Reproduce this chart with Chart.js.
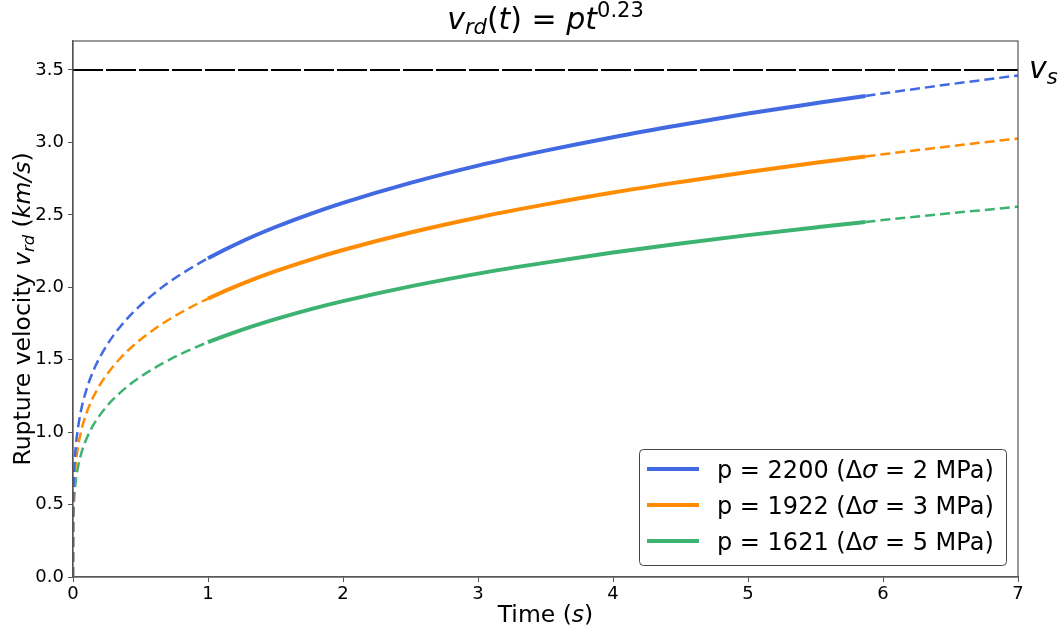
<!DOCTYPE html>
<html>
<head>
<meta charset="utf-8">
<script src="https://cdn.jsdelivr.net/npm/chart.js@4"></script>
<style>
  html, body { margin: 0; padding: 0; background: #fff; }
  #wrap { width: 1060px; height: 630px; }
</style>
</head>
<body>
<div id="wrap"><canvas id="chart" width="1060" height="630"></canvas></div>
<script>
// time samples (s)
const times = [0, 0.001, 0.003, 0.01, 0.02, 0.03, 0.06, 0.1, 0.15, 0.2, 0.25, 0.3, 0.35, 0.4, 0.45, 0.5,
               0.6, 0.7, 0.8, 0.9, 1, 1.25, 1.5, 1.75, 2, 2.5, 3, 3.5, 4, 4.5, 5, 5.5, 5.87, 6.5, 7];
// rupture velocity (km/s)
const vBlue   = [0, 0.449, 0.578, 0.763, 0.895, 0.982, 1.152, 1.295, 1.422, 1.519, 1.599, 1.668, 1.728, 1.782, 1.831, 1.876,
                 1.956, 2.027, 2.090, 2.147, 2.200, 2.316, 2.416, 2.504, 2.583, 2.721, 2.840, 2.943, 3.036, 3.120, 3.199, 3.270, 3.321, 3.402, 3.462];
const vOrange = [0, 0.392, 0.505, 0.666, 0.782, 0.858, 1.006, 1.132, 1.242, 1.327, 1.397, 1.457, 1.510, 1.557, 1.600, 1.639,
                 1.709, 1.771, 1.826, 1.876, 1.922, 2.023, 2.111, 2.188, 2.257, 2.378, 2.482, 2.572, 2.654, 2.727, 2.796, 2.859, 2.903, 2.974, 3.027];
const vGreen  = [0, 0.331, 0.426, 0.562, 0.659, 0.724, 0.849, 0.954, 1.048, 1.119, 1.178, 1.229, 1.273, 1.313, 1.349, 1.382,
                 1.441, 1.493, 1.540, 1.582, 1.621, 1.706, 1.780, 1.846, 1.904, 2.006, 2.094, 2.170, 2.240, 2.302, 2.360, 2.413, 2.451, 2.511, 2.556];
const pValues = ['2200', '1922', '1621'];
const stressDrops = ['2', '3', '5'];
const seriesColors = ['#4169E1', '#FF8C00', '#3CB371'];
const vs = 3.5;
const solidFrom = 1.0, solidTo = 5.87;
const xTicks = [0, 1, 2, 3, 4, 5, 6, 7];
const yTicks = [0, 0.5, 1.0, 1.5, 2.0, 2.5, 3.0, 3.5];

const FONT = '"DejaVu Sans", sans-serif';

function pts(vals) {
    return times.map((t, i) => ({ x: t, y: vals[i] }));
}

function inSolid(ctx) {
    const a = ctx.p0.parsed.x, b = ctx.p1.parsed.x;
    return a >= solidFrom - 1e-9 && b <= solidTo + 1e-9;
}

function curve(i, vals) {
    return {
        label: 'p = ' + pValues[i] + ' (\u0394\u03C3 = ' + stressDrops[i] + ' MPa)',
        data: pts(vals),
        borderColor: seriesColors[i],
        borderWidth: 2.5,
        pointRadius: 0,
        cubicInterpolationMode: 'monotone',
        segment: {
            borderDash: ctx => inSolid(ctx) ? undefined : [10, 5],
            borderWidth: ctx => inSolid(ctx) ? 4 : 2.5
        }
    };
}

// draw a run of text pieces with mixed styles
function drawRich(ctx, parts, x, y, align) {
    let total = 0;
    parts.forEach(p => {
        ctx.font = (p.it ? 'italic ' : '') + p.size + 'px ' + FONT;
        p.w = ctx.measureText(p.t).width;
        total += p.w;
    });
    let cx = align === 'center' ? x - total / 2 : (align === 'right' ? x - total : x);
    ctx.textAlign = 'left';
    ctx.textBaseline = 'alphabetic';
    parts.forEach(p => {
        ctx.font = (p.it ? 'italic ' : '') + p.size + 'px ' + FONT;
        ctx.fillText(p.t, cx, y + (p.dy || 0));
        cx += p.w;
    });
}

const decor = {
    id: 'decor',
    afterDraw(chart) {
        const ctx = chart.ctx;
        const a = chart.chartArea;
        const ys = chart.scales.y;
        ctx.save();
        // frame
        ctx.strokeStyle = '#555';
        ctx.lineWidth = 1.2;
        ctx.strokeRect(a.left, a.top, a.right - a.left, a.bottom - a.top);
        ctx.fillStyle = '#000';

        // title
        const T = 30;
        drawRich(ctx, [
            { t: 'v', it: true, size: T },
            { t: 'rd', it: true, size: T * 0.7, dy: 5 },
            { t: '(', size: T },
            { t: 't', it: true, size: T },
            { t: ') = ', size: T },
            { t: 'pt', it: true, size: T },
            { t: '0.23', size: T * 0.7, dy: -12 }
        ], (a.left + a.right) / 2, 29, 'center');

        // x title
        drawRich(ctx, [
            { t: 'Time (', size: 23.5 },
            { t: 's', it: true, size: 23.5 },
            { t: ')', size: 23.5 }
        ], (a.left + a.right) / 2, 622, 'center');

        // y title
        ctx.save();
        ctx.translate(29.5, (a.top + a.bottom) / 2);
        ctx.rotate(-Math.PI / 2);
        drawRich(ctx, [
            { t: 'Rupture velocity ', size: 23.5 },
            { t: 'v', it: true, size: 23.5 },
            { t: 'rd', it: true, size: 16.5, dy: 4 },
            { t: ' (', size: 23.5 },
            { t: 'km/s', it: true, size: 23.5 },
            { t: ')', size: 23.5 }
        ], 0, 0, 'center');
        ctx.restore();

        // v_s label
        const yv = ys.getPixelForValue(vs);
        drawRich(ctx, [
            { t: 'v', it: true, size: 30 },
            { t: 's', it: true, size: 21, dy: 6 }
        ], a.right + 11, yv + 8, 'left');

        // legend
        const lx = 639, ly = 449, lw = 367, lh = 116;
        ctx.beginPath();
        ctx.roundRect(lx + 0.5, ly + 0.5, lw, lh, 4);
        ctx.fillStyle = 'rgba(255,255,255,0.85)';
        ctx.fill();
        ctx.strokeStyle = '#444';
        ctx.lineWidth = 1;
        ctx.stroke();
        chart.data.datasets.slice(0, 3).forEach((ds, i) => {
            const yy = ly + 20 + i * 36;
            ctx.beginPath();
            ctx.strokeStyle = ds.borderColor;
            ctx.lineWidth = 4;
            ctx.moveTo(lx + 8, yy);
            ctx.lineTo(lx + 60, yy);
            ctx.stroke();
            ctx.fillStyle = '#000';
            const bits = ds.label.split('\u03C3');
            drawRich(ctx, [
                { t: bits[0], size: 24 },
                { t: '\u03C3', it: true, size: 24 },
                { t: bits[1], size: 24 }
            ], lx + 78, yy + 9, 'left');
        });
        ctx.restore();
    }
};

new Chart(document.getElementById('chart').getContext('2d'), {
    type: 'line',
    data: {
        datasets: [
            curve(0, vBlue),
            curve(1, vOrange),
            curve(2, vGreen),
            {
                label: 'vs',
                data: [{ x: 0, y: vs }, { x: 7, y: vs }],
                borderColor: '#000',
                borderWidth: 2,
                borderDash: [30, 3],
                pointRadius: 0
            }
        ]
    },
    options: {
        responsive: false,
        animation: false,
        layout: { padding: { left: 0, right: 42, top: 41, bottom: 0 } },
        plugins: {
            legend: { display: false },
            title: { display: false },
            tooltip: { enabled: false }
        },
        scales: {
            x: {
                type: 'linear',
                min: 0,
                max: 7,
                afterBuildTicks: s => { s.ticks = xTicks.map(v => ({ value: v })); },
                afterFit: s => { s.height = 53; },
                grid: { drawOnChartArea: false, tickLength: 5, color: '#555' },
                border: { color: '#555', width: 1.2 },
                ticks: { color: '#000', font: { family: FONT, size: 18 }, padding: 2, maxRotation: 0 }
            },
            y: {
                min: 0,
                max: 3.7,
                afterBuildTicks: s => { s.ticks = yTicks.map(v => ({ value: v })); },
                afterFit: s => { s.width = 73; },
                grid: { drawOnChartArea: false, tickLength: 5, color: '#555' },
                border: { color: '#555', width: 1.2 },
                ticks: {
                    color: '#000',
                    font: { family: FONT, size: 18 },
                    padding: 4,
                    callback: v => v.toFixed(1)
                }
            }
        }
    },
    plugins: [decor]
});
</script>
</body>
</html>
